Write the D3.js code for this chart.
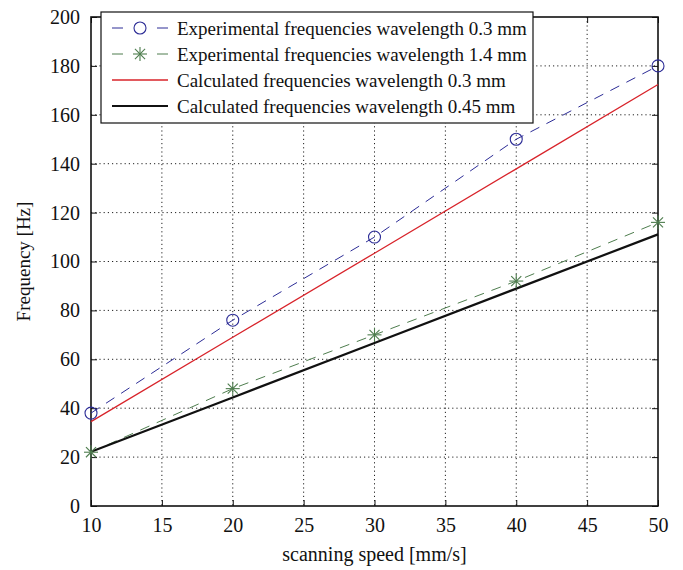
<!DOCTYPE html>
<html>
<head>
<meta charset="utf-8">
<script src="https://cdn.jsdelivr.net/npm/d3@7"></script>
<style>
  body { margin: 0; background: #fff; }
  text { font-family: "Liberation Serif", "Times New Roman", serif; fill: #111; }
</style>
</head>
<body>
<div id="container"></div>
<script>
// vitesses de balayage (mm/s)
const speeds = [10, 20, 30, 40, 50];

const expFreq03 = [38, 76, 110, 150, 180];
const expFreq14 = [22, 48, 70, 92, 116];
const calcFreq03 = [34.5, 69, 103.4, 137.9, 172.4];
const calcFreq045 = [22.2, 44.4, 66.7, 88.9, 111.1];

const xTicks = [10, 15, 20, 25, 30, 35, 40, 45, 50];
const yTicks = [0, 20, 40, 60, 80, 100, 120, 140, 160, 180, 200];

const seriesNames = [
    "Experimental frequencies wavelength 0.3 mm",
    "Experimental frequencies wavelength 1.4 mm",
    "Calculated frequencies wavelength 0.3 mm",
    "Calculated frequencies wavelength 0.45 mm"
];

const width = 683;
const height = 570;
const plot = {left: 91, right: 658, top: 17, bottom: 506};

const blue = "#2c2c96";
const green = "#4e7d4e";
const red = "#d8232a";

const x = d3.scaleLinear().domain([10, 50]).range([plot.left, plot.right]);
const y = d3.scaleLinear().domain([0, 200]).range([plot.bottom, plot.top]);

const svg = d3.create("svg")
    .attr("width", width)
    .attr("height", height);

// grille pointillée
const grid = svg.append("g")
    .attr("stroke", "#222")
    .attr("stroke-width", 1)
    .attr("stroke-dasharray", "1.2,3");

grid.selectAll("line.v")
    .data(xTicks.slice(1, -1))
    .join("line")
    .attr("x1", d => x(d)).attr("x2", d => x(d))
    .attr("y1", plot.top).attr("y2", plot.bottom);

grid.selectAll("line.h")
    .data(yTicks.slice(1, -1))
    .join("line")
    .attr("x1", plot.left).attr("x2", plot.right)
    .attr("y1", d => y(d)).attr("y2", d => y(d));

// axes, ticks vers l'intérieur
const tickLen = 6;
const xAxis = svg.append("g")
    .attr("transform", `translate(0,${plot.bottom})`)
    .call(d3.axisBottom(x).tickValues(xTicks).tickSize(-tickLen).tickPadding(12));
const xAxisTop = svg.append("g")
    .attr("transform", `translate(0,${plot.top})`)
    .call(d3.axisTop(x).tickValues(xTicks).tickSize(-tickLen).tickFormat(""));
const yAxis = svg.append("g")
    .attr("transform", `translate(${plot.left},0)`)
    .call(d3.axisLeft(y).tickValues(yTicks).tickSize(-tickLen).tickPadding(11));
const yAxisRight = svg.append("g")
    .attr("transform", `translate(${plot.right},0)`)
    .call(d3.axisRight(y).tickValues(yTicks).tickSize(-tickLen).tickFormat(""));

for (let a of [xAxis, xAxisTop, yAxis, yAxisRight]) {
    a.select(".domain").remove();
    a.selectAll(".tick line").attr("stroke", "#111").attr("stroke-width", 1);
    a.selectAll("text")
        .attr("font-family", "Liberation Serif, serif")
        .attr("font-size", 20)
        .attr("fill", "#111");
}

// cadre
svg.append("rect")
    .attr("x", plot.left).attr("y", plot.top)
    .attr("width", plot.right - plot.left)
    .attr("height", plot.bottom - plot.top)
    .attr("fill", "none")
    .attr("stroke", "#111")
    .attr("stroke-width", 1.6);

const line = d3.line()
    .x((d, i) => x(speeds[i]))
    .y(d => y(d));

const series = [
    {values: expFreq03, color: blue, width: 1, dash: "10,8", marker: "circle"},
    {values: expFreq14, color: green, width: 1, dash: "10,8", marker: "star"},
    {values: calcFreq03, color: red, width: 1.3, dash: null, marker: null},
    {values: calcFreq045, color: "#111", width: 2.2, dash: null, marker: null}
];

const lines = svg.append("g").attr("fill", "none");
lines.selectAll("path")
    .data(series)
    .join("path")
    .attr("d", d => line(d.values))
    .attr("stroke", d => d.color)
    .attr("stroke-width", d => d.width)
    .attr("stroke-dasharray", d => d.dash);

// marqueurs
function drawMarker(g, type, color, cx, cy) {
    if (type == "circle") {
        g.append("circle")
            .attr("cx", cx).attr("cy", cy).attr("r", 6)
            .attr("fill", "none")
            .attr("stroke", color)
            .attr("stroke-width", 1.1);
    } else if (type == "star") {
        const r = 7;
        const k = r * 0.72;
        const segs = [[-r, 0, r, 0], [0, -r, 0, r], [-k, -k, k, k], [-k, k, k, -k]];
        for (let s of segs) {
            g.append("line")
                .attr("x1", cx + s[0]).attr("y1", cy + s[1])
                .attr("x2", cx + s[2]).attr("y2", cy + s[3])
                .attr("stroke", color)
                .attr("stroke-width", 1.1);
        }
    }
}

const markers = svg.append("g");
for (let s of series) {
    if (!s.marker) continue;
    s.values.forEach((v, i) => drawMarker(markers, s.marker, s.color, x(speeds[i]), y(v)));
}

// légende
const legend = svg.append("g");
legend.append("rect")
    .attr("x", 101).attr("y", 12)
    .attr("width", 432).attr("height", 111)
    .attr("fill", "#fff")
    .attr("stroke", "#111")
    .attr("stroke-width", 1.2);

const rowY = [28, 54, 80, 106];
series.forEach((s, i) => {
    const ly = rowY[i];
    if (s.marker) {
        legend.append("line")
            .attr("x1", 112).attr("x2", 123).attr("y1", ly).attr("y2", ly)
            .attr("stroke", s.color).attr("stroke-width", 1);
        legend.append("line")
            .attr("x1", 157).attr("x2", 168).attr("y1", ly).attr("y2", ly)
            .attr("stroke", s.color).attr("stroke-width", 1);
        drawMarker(legend, s.marker, s.color, 140, ly);
    } else {
        legend.append("line")
            .attr("x1", 112).attr("x2", 168).attr("y1", ly).attr("y2", ly)
            .attr("stroke", s.color).attr("stroke-width", s.width);
    }
    legend.append("text")
        .attr("x", 177).attr("y", ly)
        .attr("dy", "0.35em")
        .attr("font-size", 19)
        .text(seriesNames[i]);
});

// titres des axes
svg.append("text")
    .attr("x", (plot.left + plot.right) / 2)
    .attr("y", 561)
    .attr("text-anchor", "middle")
    .attr("font-size", 20)
    .text("scanning speed [mm/s]");

svg.append("text")
    .attr("transform", `translate(30,${(plot.top + plot.bottom) / 2}) rotate(-90)`)
    .attr("text-anchor", "middle")
    .attr("font-size", 19)
    .text("Frequency [Hz]");

d3.select("#container").node().append(svg.node());
</script>
</body>
</html>
